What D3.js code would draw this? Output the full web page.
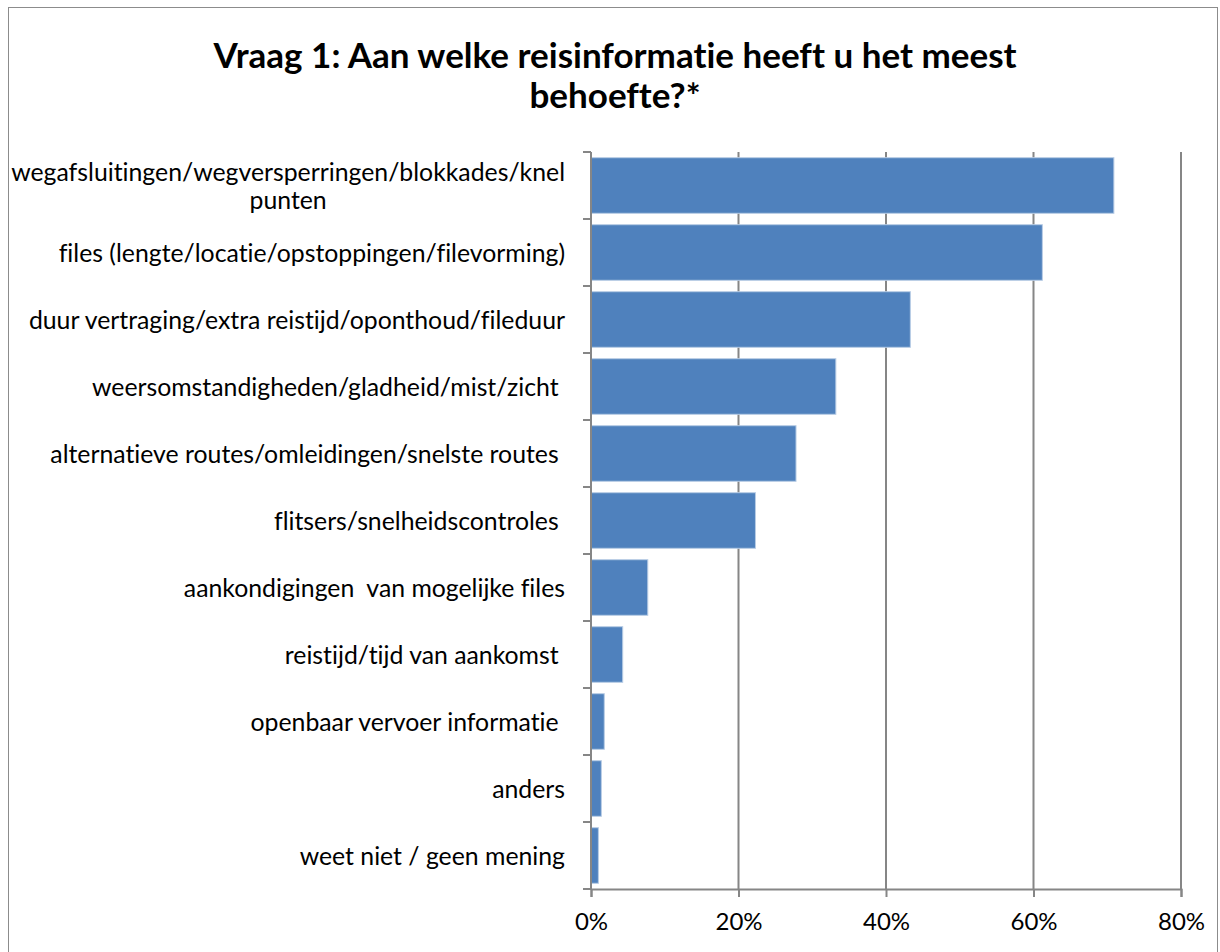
<!DOCTYPE html>
<html>
<head>
<meta charset="utf-8">
<script src="https://cdn.jsdelivr.net/npm/d3@7"></script>
<style>
  body { margin: 0; background: #fff; }
  text { font-family: Lato, "Open Sans", sans-serif; font-variant-ligatures: none; }
</style>
</head>
<body>
<div class="content"></div>
<script>
// chart data
var categories = [
  ["wegafsluitingen/wegversperringen/blokkades/knel", "punten"],
  ["files (lengte/locatie/opstoppingen/filevorming)"],
  ["duur vertraging/extra reistijd/oponthoud/fileduur"],
  ["weersomstandigheden/gladheid/mist/zicht "],
  ["alternatieve routes/omleidingen/snelste routes "],
  ["flitsers/snelheidscontroles "],
  ["aankondigingen  van mogelijke files"],
  ["reistijd/tijd van aankomst "],
  ["openbaar vervoer informatie "],
  ["anders"],
  ["weet niet / geen mening"]
];
var values = [0.709, 0.612, 0.433, 0.332, 0.278, 0.223, 0.077, 0.043, 0.018, 0.014, 0.010];
var xTicks = [0, 0.2, 0.4, 0.6, 0.8];
var titleLines = ["Vraag 1: Aan welke reisinformatie heeft u het meest", "behoefte?*"];

var W = 1220, H = 952;
var margin = {top: 152, right: 39, bottom: 63, left: 591},
    width = W - margin.left - margin.right,
    height = H - margin.top - margin.bottom;

var root = d3.select(".content")
    .append("svg")
    .attr("width", W)
    .attr("height", H);

// chart border
root.append("rect")
    .attr("x", 8.5).attr("y", 7.5)
    .attr("width", 1209).attr("height", 960)
    .attr("fill", "none")
    .attr("stroke", "#8c8c8c")
    .attr("stroke-width", 1);

// title
root.append("text")
    .attr("text-anchor", "middle")
    .attr("font-weight", "bold")
    .attr("font-size", 35)
    .attr("fill", "#000")
    .selectAll("tspan")
    .data(titleLines)
    .enter()
    .append("tspan")
    .attr("x", 615)
    .attr("y", function (d, i) { return 68 + i * 40; })
    .text(function (d) { return d; });

var svg = root.append("g")
    .attr("transform", "translate(" + margin.left + "," + margin.top + ")");

var x = d3.scaleLinear()
    .domain([0, 0.8])
    .range([0, width]);

var y = d3.scaleBand()
    .domain(d3.range(categories.length))
    .range([0, height])
    .paddingInner(0.17)
    .paddingOuter(0.085);

// vertical gridlines
svg.append("g")
    .selectAll("line")
    .data(xTicks.slice(1))
    .enter()
    .append("line")
    .attr("x1", function (d) { return x(d); })
    .attr("x2", function (d) { return x(d); })
    .attr("y1", 0)
    .attr("y2", height)
    .attr("stroke", "#868686")
    .attr("stroke-width", 2);

// bars
svg.append("g")
    .selectAll("rect")
    .data(values)
    .enter()
    .append("rect")
    .attr("x", 0)
    .attr("y", function (d, i) { return y(i); })
    .attr("width", function (d) { return x(d); })
    .attr("height", y.bandwidth())
    .attr("fill", "#4f81bd")
    .attr("stroke", "#b9cde5")
    .attr("stroke-width", 1);

// x axis
var xAxis = svg.append("g")
    .attr("transform", "translate(0," + height + ")")
    .call(d3.axisBottom(x).tickValues(xTicks).tickFormat(d3.format(".0%")).tickSize(8).tickPadding(16));
xAxis.select(".domain").attr("stroke", "#868686").attr("stroke-width", 2);
xAxis.selectAll(".tick line").attr("stroke", "#868686").attr("stroke-width", 2);
xAxis.selectAll("text")
    .attr("font-family", "Lato")
    .attr("font-size", 24)
    .attr("fill", "#000");

// y axis: the domain line and a tick at every band edge
var bandStep = height / categories.length;
svg.append("line")
    .attr("x1", 0).attr("x2", 0)
    .attr("y1", 0).attr("y2", height)
    .attr("stroke", "#868686")
    .attr("stroke-width", 2);
svg.append("g")
    .selectAll("line")
    .data(d3.range(categories.length + 1))
    .enter()
    .append("line")
    .attr("x1", -8).attr("x2", 0)
    .attr("y1", function (d) { return d * bandStep; })
    .attr("y2", function (d) { return d * bandStep; })
    .attr("stroke", "#868686")
    .attr("stroke-width", 2);

// category labels, right aligned, wrapped lines centred within the block
var labelRight = -26;
var lineH = 28;
svg.append("g")
    .selectAll("g")
    .data(categories)
    .enter()
    .append("g")
    .each(function (lines, i) {
        var g = d3.select(this);
        var cy = y(i) + y.bandwidth() / 2;
        var t = g.append("text")
            .attr("font-size", 24.8)
            .attr("fill", "#000")
            .style("white-space", "pre")
            .attr("text-anchor", "middle");
        lines.forEach(function (ln, j) {
            t.append("tspan")
                .attr("y", cy + (j - (lines.length - 1) / 2) * lineH)
                .attr("dominant-baseline", "central")
                .text(ln);
        });
        var maxW = d3.max(t.selectAll("tspan").nodes(), function (n) { return n.getComputedTextLength(); });
        t.selectAll("tspan").attr("x", labelRight - maxW / 2);
    });
</script>
</body>
</html>
